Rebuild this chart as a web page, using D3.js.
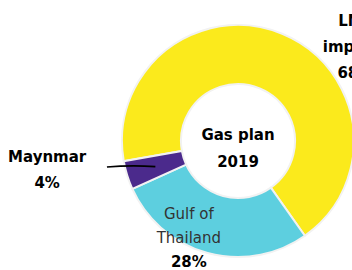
<!DOCTYPE html>
<html>
<head>
<meta charset="utf-8">
<script src="https://cdn.jsdelivr.net/npm/d3@7"></script>
<style>
  html, body { margin: 0; padding: 0; background: #fff; }
  svg { display: block; font-family: "DejaVu Sans", sans-serif; }
</style>
</head>
<body>
<div id="chart"></div>
<script>
// Gas plan 2019 – supply shares
const categories = ['LNG imports', 'Gulf of Thailand', 'Maynmar'];
const shares = [68, 28, 4];
const colors = ['#fbea1c', '#5dcfdf', '#4b2a8c'];
const centerTitle = ['Gas plan', '2019'];

const width = 352, height = 270;
const cx = 238, cy = 141;
const outerR = 116, innerR = 57;

const svg = d3.select('#chart').append('svg')
    .attr('width', width).attr('height', height);

const g = svg.append('g').attr('transform', `translate(${cx},${cy})`);

const data = categories.map((c, i) => ({ name: c, value: shares[i], color: colors[i] }));

const pie = d3.pie()
    .sort(null)
    .value(d => d.value)
    .startAngle(-100 * Math.PI / 180)
    .endAngle(260 * Math.PI / 180);

const arcs = pie(data);

const arc = d3.arc().innerRadius(innerR).outerRadius(outerR);

g.selectAll('path.slice')
    .data(arcs)
    .enter().append('path')
    .attr('class', 'slice')
    .attr('d', arc)
    .attr('fill', d => d.data.color)
    .attr('stroke', '#f2f2f2')
    .attr('stroke-width', 2);

// Centre title
g.append('text')
    .attr('text-anchor', 'middle')
    .attr('font-weight', 'bold')
    .attr('font-size', 15)
    .attr('fill', '#000')
    .selectAll('tspan')
    .data(centerTitle)
    .enter().append('tspan')
    .attr('x', 0)
    .attr('y', (d, i) => -1 + i * 27)
    .text(d => d);

// point on circle, angle in degrees clockwise from 12 o'clock
function polar(angleDeg, r) {
    const a = angleDeg * Math.PI / 180;
    return [Math.sin(a) * r, -Math.cos(a) * r];
}

// LNG imports label (top right, partly clipped by the frame as in the source)
const lngPos = polar(51.5, 150);
const lng = g.append('text')
    .attr('text-anchor', 'middle')
    .attr('font-weight', 'bold')
    .attr('font-size', 15)
    .attr('fill', '#000');
['LNG', 'imports', `${shares[0]}%`].forEach((t, i) => {
    lng.append('tspan').attr('x', lngPos[0]).attr('y', lngPos[1] - 22 + i * 26).text(t);
});

// Gulf of Thailand label (inside the slice, two grey lines + bold share)
const gulfPos = polar(206.8, 109);
const gulf = g.append('text')
    .attr('text-anchor', 'middle')
    .attr('font-size', 15);
['Gulf of', 'Thailand'].forEach((t, i) => {
    gulf.append('tspan').attr('x', gulfPos[0]).attr('y', gulfPos[1] - 19 + i * 24)
        .attr('fill', '#333').text(t);
});
gulf.append('tspan').attr('x', gulfPos[0]).attr('y', gulfPos[1] + 29)
    .attr('font-weight', 'bold').attr('fill', '#000').text(`${shares[1]}%`);

// Myanmar label with leader line to slice centroid
const myArc = arcs[2];
const c = arc.centroid(myArc);
const lineEnd = polar(258.8, 133.6);
g.append('path')
    .attr('d', `M${lineEnd[0]},${lineEnd[1]} Q${(lineEnd[0] + c[0]) / 2},${lineEnd[1] - 2} ${c[0]},${c[1]}`)
    .attr('fill', 'none')
    .attr('stroke', '#000')
    .attr('stroke-width', 1.6);

const myPos = polar(261.4, 193);
const my = g.append('text')
    .attr('text-anchor', 'middle')
    .attr('font-weight', 'bold')
    .attr('font-size', 15)
    .attr('fill', '#000');
[categories[2], `${shares[2]}%`].forEach((t, i) => {
    my.append('tspan').attr('x', myPos[0]).attr('y', myPos[1] - 8 + i * 26).text(t);
});
</script>
</body>
</html>
